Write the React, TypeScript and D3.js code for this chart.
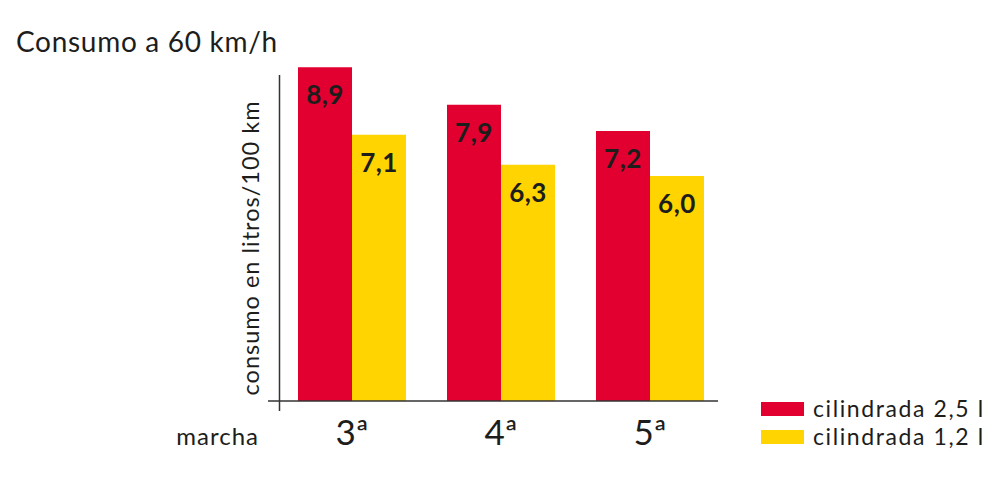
import * as d3 from "d3";
import * as React from "react";

const gears = ["3ª", "4ª", "5ª"];
const series = ["cilindrada 2,5 l", "cilindrada 1,2 l"];
const big = [8.9, 7.9, 7.2];
const small = [7.1, 6.3, 6.0];
const colors = ["#e10030", "#ffd400"];

const W = 1000;
const H = 488;
const font = "Lato, 'Open Sans', sans-serif";
const ink = "#1d1d1b";

const App: React.FC = () => {
  // Scales
  const x = d3.scaleBand().domain(gears).range([298, 704]).paddingInner(0.275);
  const xs = d3.scaleBand().domain(series).range([0, x.bandwidth()]);
  const y = d3.scaleLinear().domain([0, 9]).range([401, 401 - 9 * 37.5]);

  const rows = gears.map((g, i) => ({ gear: g, values: [big[i], small[i]] }));
  const fmt = (v: number) => d3.format(".1f")(v).replace(".", ",");

  return (
    <svg width={W} height={H} style={{ display: "block", position: "absolute", left: 0, top: 0 }}>
      <rect width={W} height={H} fill="#fff" />
      <text x={16} y={52} fontFamily={font} fontSize={28} letterSpacing={0.7} fill={ink}>
        Consumo a 60 km/h
      </text>

      {/* bars */}
      {rows.map((r) =>
        r.values.map((v, j) => {
          const bx = (x(r.gear) as number) + (xs(series[j]) as number);
          return (
            <g key={r.gear + j}>
              <rect x={bx} y={y(v)} width={xs.bandwidth()} height={y(0) - y(v)} fill={colors[j]} />
              <text
                x={bx + xs.bandwidth() / 2}
                y={y(v) + 37}
                textAnchor="middle"
                fontFamily={font}
                fontWeight={700}
                fontSize={26}
                letterSpacing={0.5}
                fill={ink}
              >
                {fmt(v)}
              </text>
            </g>
          );
        })
      )}

      {/* axes */}
      <line x1={279.5} x2={279.5} y1={75} y2={411} stroke="#333" strokeWidth={1.5} />
      <line x1={268} x2={718} y1={401} y2={401} stroke="#333" strokeWidth={1.5} />

      {gears.map((g) => (
        <text
          key={g}
          x={(x(g) as number) + x.bandwidth() / 2}
          y={445}
          textAnchor="middle"
          fontFamily={font}
          fontWeight={400}
          fontSize={35}
          fill={ink}
        >
          {g}
        </text>
      ))}
      <text x={259} y={445} textAnchor="end" fontFamily={font} fontSize={24} letterSpacing={1} fill={ink}>
        marcha
      </text>
      <text
        transform="translate(259,248) rotate(-90)"
        textAnchor="middle"
        fontFamily={font}
        fontSize={23.5}
        letterSpacing={1}
        fill={ink}
      >
        consumo en litros/100 km
      </text>

      {/* legend */}
      {series.map((s, j) => (
        <g key={s} transform={`translate(761,${402 + j * 28})`}>
          <rect width={43} height={14} fill={colors[j]} />
          <text x={52} y={14.5} fontFamily={font} fontSize={23} letterSpacing={1.6} fill={ink}>
            {s}
          </text>
        </g>
      ))}
    </svg>
  );
};

export default App;
